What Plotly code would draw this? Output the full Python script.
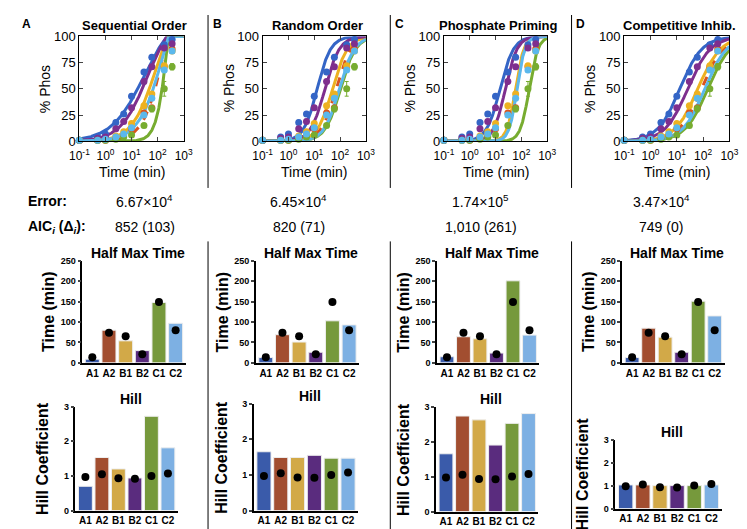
import numpy as np
import plotly.graph_objects as go

W, H = 747, 529
FONT = "Liberation Sans, Arial, sans-serif"

# ---------------- data ----------------
samples = ["A1", "A2", "B1", "B2", "C1", "C2"]
line_colors = ["#3465C6", "#D9541E", "#EDB120", "#7E2F8E", "#77AC30", "#5BB8EC"]
bar_colors = ["#3A5BAA", "#A24E30", "#D2A948", "#5A2C7E", "#76993C", "#7DB0E3"]

times = [0.1, 0.5, 1, 2.5, 5, 10, 30, 60, 180, 360]
phos_A1 = [1, 4, 7, 18, 26, 43, 66, 80, 92, 97]
phos_A2 = [1, 1, 1, 3, 6, 12, 27, 32, 71, 88]
phos_B1 = [1, 1, 2, 5, 9, 17, 34, 45, 72, 86]
phos_B2 = [1, 3, 4, 12, 19, 32, 57, 71, 89, 93]
phos_C1 = [1, 1, 1, 2, 4, 6, 15, 31, 50, 71]
phos_C2 = [1, 1, 2, 4, 7, 13, 25, 41, 68, 86]
err_A1 = [0, 1, 1, 2, 2, 2, 2, 2, 2, 1]
err_A2 = [0, 0, 0, 1, 1, 1, 2, 2, 2, 2]
err_B1 = [0, 0, 0, 1, 1, 1, 2, 2, 2, 2]
err_B2 = [0, 1, 1, 1, 2, 2, 2, 2, 2, 2]
err_C1 = [0, 0, 0, 0, 1, 1, 2, 3, 7, 3]
err_C2 = [0, 0, 0, 1, 1, 1, 2, 2, 2, 2]
phos = [phos_A1, phos_A2, phos_B1, phos_B2, phos_C1, phos_C2]
errs = [err_A1, err_A2, err_B1, err_B2, err_C1, err_C2]

# sequential-order model curve parameters (panel A)
seq_t50 = [30, 180, 90, 40, 250, 200]
seq_n = [0.7, 1.1, 0.95, 0.85, 2.0, 0.9]
seq_tfull = [230, 240, 230, 230, 260, 250]

# fitted half-max times (min) and Hill coefficients per model
halfmax_seq = [9, 80, 54, 30, 148, 97]
halfmax_rand = [13, 69, 51, 26, 103, 93]
halfmax_prime = [15, 64, 59, 24, 201, 68]
halfmax_comp = [13, 85, 63, 26, 151, 115]
halfmax_exp = [14, 74, 65, 21, 149, 80]

hill_seq = [0.7, 1.53, 1.2, 0.94, 2.72, 1.81]
hill_rand = [1.65, 1.49, 1.49, 1.55, 1.47, 1.47]
hill_prime = [1.65, 2.73, 2.62, 1.9, 2.52, 2.8]
hill_comp = [1.03, 1.03, 1.0, 1.0, 1.0, 1.03]
hill_exp = [0.97, 1.05, 0.93, 0.92, 1.0, 1.07]

titles = ["Sequential Order", "Random Order", "Phosphate Priming", "Competitive Inhib."]
letters = ["A", "B", "C", "D"]
error_vals = ["6.67×10<sup>4</sup>", "6.45×10<sup>4</sup>", "1.74×10<sup>5</sup>", "3.47×10<sup>4</sup>"]
aic_vals = ["852 (103)", "820 (71)", "1,010 (261)", "749 (0)"]
halfmax_models = [halfmax_seq, halfmax_rand, halfmax_prime, halfmax_comp]
hill_models = [hill_seq, hill_rand, hill_prime, hill_comp]

# ---------------- layout geometry (pixels) ----------------
sc_x = [(63, 170), (251, 357), (437, 543), (622, 730)]
sc_y = (22, 130)
hm_x = [(66, 172), (244, 350), (430, 535), (620, 725)]
hm_y = [(253, 358)] * 4
hl_x = [(59, 164), (242, 349), (429, 534), (613, 722)]
hl_y = [(403, 510), (400, 510), (403, 511), (437, 508)]
col_centers = [130, 288, 475, 660]
seps = [195, 382, 568]


def xd(l, r):
    return [l / W, r / W]


def yd(t, b):
    return [1 - b / H, 1 - t / H]


def px(x):
    return x / W


def py(y):
    return 1 - y / H


def hill(t, t50, n):
    t = np.asarray(t, dtype=float)
    return t ** n / (t50 ** n + t ** n)


fig = go.Figure()
layout = dict(width=W, height=H, margin=dict(l=0, r=0, t=0, b=0),
              paper_bgcolor="white", plot_bgcolor="white", showlegend=False,
              font=dict(family=FONT, color="black"))
annotations = []
shapes = []


def axkeys(k):
    return ("xaxis" if k == 1 else f"xaxis{k}", "yaxis" if k == 1 else f"yaxis{k}",
            "x" if k == 1 else f"x{k}", "y" if k == 1 else f"y{k}")


tgrid = np.logspace(-1, 3, 300)

# ---------------- time-course panels ----------------
for p in range(4):
    k = p + 1
    xk, yk, xr, yr = axkeys(k)
    layout[xk] = dict(domain=xd(*sc_x[p]), anchor=yr, type="log", range=[-1, 3],
                      tickvals=[0.1, 1, 10, 100, 1000],
                      ticktext=["10<sup>-1</sup>", "10<sup>0</sup>", "10<sup>1</sup>",
                                "10<sup>2</sup>", "10<sup>3</sup>"],
                      ticks="inside", ticklen=4, showline=True, mirror="ticks",
                      linecolor="black", linewidth=1, showgrid=False, zeroline=False,
                      tickfont=dict(size=12), ticklabelstandoff=3, fixedrange=True)
    layout[yk] = dict(domain=yd(*sc_y), anchor=xr, range=[0, 100],
                      tickvals=[0, 25, 50, 75, 100], ticks="inside", ticklen=4,
                      showline=True, mirror="ticks", linecolor="black", linewidth=1,
                      showgrid=False, zeroline=False, tickfont=dict(size=13))
    for i in range(6):
        if p == 0:
            y = np.minimum(100, 100 * hill(tgrid, seq_t50[i], seq_n[i]) /
                           hill(seq_tfull[i], seq_t50[i], seq_n[i]))
        else:
            y = 100 * hill(tgrid, halfmax_models[p][i], hill_models[p][i])
        fig.add_trace(go.Scatter(x=tgrid, y=y, mode="lines", xaxis=xr, yaxis=yr,
                                 line=dict(color=line_colors[i], width=3,
                                           dash="dash" if i == 1 else "solid"),
                                 hoverinfo="skip"))
    for i in range(6):
        fig.add_trace(go.Scatter(x=times, y=phos[i], mode="markers", xaxis=xr, yaxis=yr,
                                 marker=dict(color=line_colors[i], size=7),
                                 error_y=dict(type="data", array=errs[i], color=line_colors[i],
                                              thickness=1, width=2),
                                 cliponaxis=False))
    cx = (sc_x[p][0] + sc_x[p][1]) / 2
    annotations.append(dict(text="<b>" + titles[p] + "</b>", x=px(cx + 3), y=py(11),
                            xref="paper", yref="paper", showarrow=False,
                            font=dict(size=13), xanchor="center", yanchor="middle"))
    annotations.append(dict(text="Time (min)", x=px(cx), y=py(162), xref="paper",
                            yref="paper", showarrow=False, font=dict(size=14),
                            xanchor="center", yanchor="middle"))
    annotations.append(dict(text="% Phos", x=px(sc_x[p][0] - 35), y=py(76), xref="paper",
                            yref="paper", showarrow=False, font=dict(size=14), textangle=-90,
                            xanchor="center", yanchor="middle"))
    lx = [9, 205, 391, 577][p]
    annotations.append(dict(text="<b>" + letters[p] + "</b>", x=px(lx), y=py(9),
                            xref="paper", yref="paper", showarrow=False, font=dict(size=12),
                            xanchor="center", yanchor="middle"))

# ---------------- bar panels ----------------
def bar_panel(k, xdom, ydom, vals, expv, yrange, tickvals, title, ytitle, title_y):
    xk, yk, xr, yr = axkeys(k)
    layout[xk] = dict(domain=xd(*xdom), anchor=yr, type="category", range=[-0.6, 5.6],
                      showline=True, linecolor="black", linewidth=1.5, ticks="",
                      tickfont=dict(size=10, weight="bold"), showgrid=False,
                      zeroline=False)
    layout[yk] = dict(domain=yd(*ydom), anchor=xr, range=yrange, tickvals=tickvals,
                      ticks="outside", ticklen=3, tickwidth=1.5, showline=True,
                      linecolor="black", linewidth=1.5, showgrid=False, zeroline=False,
                      tickfont=dict(size=9, weight="bold"))
    fig.add_trace(go.Bar(x=samples, y=vals, xaxis=xr, yaxis=yr, width=0.84,
                         marker=dict(color=bar_colors, line=dict(color="#EEEEEE", width=1))))
    fig.add_trace(go.Scatter(x=samples, y=expv, mode="markers", xaxis=xr, yaxis=yr,
                             marker=dict(color="black", size=8), cliponaxis=False))
    cx = (xdom[0] + xdom[1]) / 2
    annotations.append(dict(text="<b>" + title + "</b>", x=px(cx + 4), y=py(title_y),
                            xref="paper", yref="paper", showarrow=False,
                            font=dict(size=14), xanchor="center", yanchor="middle"))
    annotations.append(dict(text="<b>" + ytitle + "</b>", x=px(xdom[0] - 34),
                            y=py((ydom[0] + ydom[1]) / 2), xref="paper", yref="paper",
                            showarrow=False, font=dict(size=16), textangle=-90,
                            xanchor="center", yanchor="middle"))


for p in range(4):
    bar_panel(5 + p, hm_x[p], hm_y[p], halfmax_models[p], halfmax_exp, [0, 250],
              [0, 50, 100, 150, 200, 250], "Half Max Time", "Time (min)", 245)
    bar_panel(9 + p, hl_x[p], hl_y[p], hill_models[p], hill_exp, [0, 3],
              [0, 1, 2, 3], "Hill", "Hill Coefficient", hl_y[p][0] - 8)

# ---------------- table ----------------
annotations.append(dict(text="<b>Error:</b>", x=px(8), y=py(191), xref="paper", yref="paper",
                        showarrow=False, font=dict(size=14), xanchor="left", yanchor="middle"))
annotations.append(dict(text="<b>AIC<sub><i>i</i></sub> (Δ<sub><i>i</i></sub>):</b>", x=px(8),
                        y=py(218), xref="paper", yref="paper", showarrow=False,
                        font=dict(size=14), xanchor="left", yanchor="middle"))
for p in range(4):
    annotations.append(dict(text=error_vals[p], x=px(col_centers[p]), y=py(191), xref="paper",
                            yref="paper", showarrow=False, font=dict(size=14),
                            xanchor="center", yanchor="middle"))
    annotations.append(dict(text=aic_vals[p], x=px(col_centers[p]), y=py(218), xref="paper",
                            yref="paper", showarrow=False, font=dict(size=14),
                            xanchor="center", yanchor="middle"))

for s in seps:
    shapes.append(dict(type="line", xref="paper", yref="paper", x0=px(s), x1=px(s),
                       y0=py(0), y1=py(178), line=dict(color="black", width=1)))
    shapes.append(dict(type="line", xref="paper", yref="paper", x0=px(s), x1=px(s),
                       y0=py(233), y1=py(529), line=dict(color="black", width=1)))

layout["annotations"] = annotations
layout["shapes"] = shapes
fig.update_layout(**layout)
fig.write_html("out.html")
